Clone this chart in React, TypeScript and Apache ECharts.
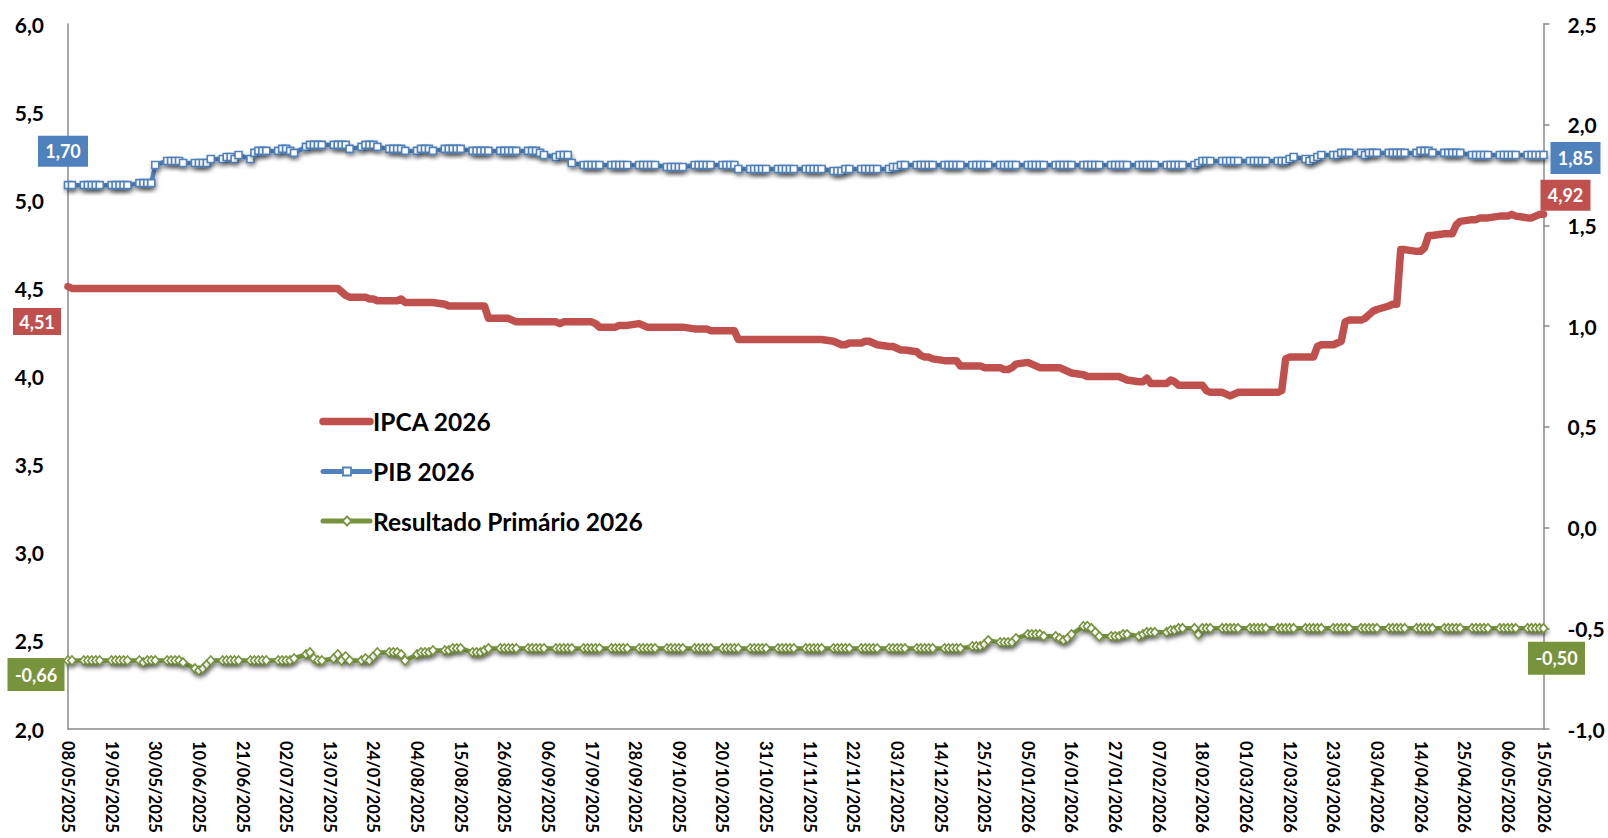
import React, { useEffect, useRef } from "react";
import * as echarts from "echarts";

const FIRST_DAY = "2025-05-08";
const LAST_DAY = "2026-05-15";

const TICK_LABELS = [
  "08/05/2025", "19/05/2025", "30/05/2025", "10/06/2025", "21/06/2025", "02/07/2025",
  "13/07/2025", "24/07/2025", "04/08/2025", "15/08/2025", "26/08/2025", "06/09/2025",
  "17/09/2025", "28/09/2025", "09/10/2025", "20/10/2025", "31/10/2025", "11/11/2025",
  "22/11/2025", "03/12/2025", "14/12/2025", "25/12/2025", "05/01/2026", "16/01/2026",
  "27/01/2026", "07/02/2026", "18/02/2026", "01/03/2026", "12/03/2026", "23/03/2026",
  "03/04/2026", "14/04/2026", "25/04/2026", "06/05/2026", "15/05/2026",
];

const LEFT_TICKS = [2.0, 2.5, 3.0, 3.5, 4.0, 4.5, 5.0, 5.5, 6.0];
const RIGHT_TICKS = [-1.0, -0.5, 0.0, 0.5, 1.0, 1.5, 2.0, 2.5];

const SERIES_NAMES = ["IPCA 2026", "PIB 2026", "Resultado Primário 2026"];

// Business-day values, grouped by week (first group: Thu 08/05 and Fri 09/05/2025)
const IPCA_2026 = [
  [4.51, 4.5],
  [4.5, 4.5, 4.5, 4.5, 4.5], [4.5, 4.5, 4.5, 4.5, 4.5], [4.5, 4.5, 4.5, 4.5, 4.5],
  [4.5, 4.5, 4.5, 4.5, 4.5], [4.5, 4.5, 4.5, 4.5, 4.5], [4.5, 4.5, 4.5, 4.5, 4.5],
  [4.5, 4.5, 4.5, 4.5, 4.5], [4.5, 4.5, 4.5, 4.5, 4.5], [4.5, 4.5, 4.5, 4.5, 4.5],
  [4.5, 4.5, 4.48, 4.46, 4.45], [4.45, 4.45, 4.44, 4.44, 4.43], [4.43, 4.43, 4.43, 4.44, 4.42],
  [4.42, 4.42, 4.42, 4.42, 4.42], [4.41, 4.4, 4.4, 4.4, 4.4], [4.4, 4.4, 4.4, 4.4, 4.33],
  [4.33, 4.33, 4.33, 4.32, 4.31], [4.31, 4.31, 4.31, 4.31, 4.31], [4.31, 4.3, 4.31, 4.31, 4.31],
  [4.31, 4.31, 4.31, 4.3, 4.28], [4.28, 4.28, 4.29, 4.29, 4.29], [4.3, 4.29, 4.28, 4.28, 4.28],
  [4.28, 4.28, 4.28, 4.28, 4.28], [4.27, 4.27, 4.27, 4.27, 4.26], [4.26, 4.26, 4.26, 4.26, 4.21],
  [4.21, 4.21, 4.21, 4.21, 4.21], [4.21, 4.21, 4.21, 4.21, 4.21], [4.21, 4.21, 4.21, 4.21, 4.21],
  [4.2, 4.19, 4.18, 4.18, 4.19], [4.19, 4.2, 4.2, 4.19, 4.18], [4.17, 4.17, 4.16, 4.15, 4.15],
  [4.14, 4.12, 4.11, 4.11, 4.1], [4.09, 4.09, 4.09, 4.09, 4.06], [4.06, 4.06, 4.06, 4.05, 4.05],
  [4.05, 4.04, 4.04, 4.05, 4.07], [4.08, 4.07, 4.06, 4.05, 4.05], [4.05, 4.05, 4.04, 4.03, 4.02],
  [4.01, 4.0, 4.0, 4.0, 4.0], [4.0, 4.0, 4.0, 3.99, 3.98], [3.97, 3.97, 3.99, 3.96, 3.96],
  [3.96, 3.98, 3.97, 3.95, 3.95], [3.95, 3.95, 3.95, 3.92, 3.91], [3.91, 3.9, 3.89, 3.9, 3.91],
  [3.91, 3.91, 3.91, 3.91, 3.91], [3.91, 3.92, 4.1, 4.11, 4.11], [4.11, 4.11, 4.11, 4.17, 4.18],
  [4.18, 4.19, 4.2, 4.31, 4.32], [4.32, 4.33, 4.35, 4.37, 4.38], [4.4, 4.41, 4.41, 4.72, 4.72],
  [4.71, 4.71, 4.73, 4.8, 4.8], [4.81, 4.81, 4.81, 4.86, 4.88], [4.89, 4.89, 4.9, 4.9, 4.9],
  [4.91, 4.91, 4.91, 4.92, 4.91], [4.9, 4.9, 4.91, 4.92, 4.92],
];

const PIB_2026 = [
  [1.7, 1.7],
  [1.7, 1.7, 1.7, 1.7, 1.7], [1.7, 1.7, 1.7, 1.7, 1.7], [1.71, 1.71, 1.71, 1.71, 1.8],
  [1.82, 1.82, 1.82, 1.82, 1.81], [1.81, 1.81, 1.81, 1.81, 1.83], [1.83, 1.84, 1.84, 1.83, 1.85],
  [1.83, 1.86, 1.87, 1.87, 1.87], [1.87, 1.88, 1.88, 1.87, 1.86], [1.89, 1.9, 1.9, 1.9, 1.9],
  [1.9, 1.9, 1.9, 1.9, 1.88], [1.89, 1.9, 1.9, 1.9, 1.89], [1.88, 1.88, 1.88, 1.88, 1.87],
  [1.87, 1.88, 1.88, 1.88, 1.87], [1.88, 1.88, 1.88, 1.88, 1.88], [1.87, 1.87, 1.87, 1.87, 1.87],
  [1.87, 1.87, 1.87, 1.87, 1.87], [1.87, 1.87, 1.87, 1.86, 1.85], [1.84, 1.85, 1.85, 1.85, 1.81],
  [1.8, 1.8, 1.8, 1.8, 1.8], [1.8, 1.8, 1.8, 1.8, 1.8], [1.8, 1.8, 1.8, 1.8, 1.8],
  [1.79, 1.79, 1.79, 1.79, 1.79], [1.8, 1.8, 1.8, 1.8, 1.8], [1.8, 1.8, 1.8, 1.8, 1.78],
  [1.78, 1.78, 1.78, 1.78, 1.78], [1.78, 1.78, 1.78, 1.78, 1.78], [1.78, 1.78, 1.78, 1.78, 1.78],
  [1.77, 1.77, 1.77, 1.78, 1.78], [1.78, 1.78, 1.78, 1.78, 1.78], [1.78, 1.79, 1.79, 1.8, 1.8],
  [1.8, 1.8, 1.8, 1.8, 1.8], [1.8, 1.8, 1.8, 1.8, 1.8], [1.8, 1.8, 1.8, 1.8, 1.8],
  [1.8, 1.8, 1.8, 1.8, 1.8], [1.8, 1.8, 1.8, 1.8, 1.8], [1.8, 1.8, 1.8, 1.8, 1.8],
  [1.8, 1.8, 1.8, 1.8, 1.8], [1.8, 1.8, 1.8, 1.8, 1.8], [1.8, 1.8, 1.8, 1.8, 1.8],
  [1.8, 1.8, 1.8, 1.8, 1.8], [1.8, 1.81, 1.82, 1.82, 1.82], [1.82, 1.82, 1.82, 1.82, 1.82],
  [1.82, 1.82, 1.82, 1.82, 1.82], [1.82, 1.82, 1.82, 1.83, 1.84], [1.83, 1.82, 1.83, 1.84, 1.85],
  [1.85, 1.85, 1.86, 1.86, 1.86], [1.86, 1.85, 1.86, 1.86, 1.86], [1.86, 1.86, 1.86, 1.86, 1.86],
  [1.86, 1.87, 1.87, 1.87, 1.86], [1.86, 1.86, 1.86, 1.86, 1.86], [1.85, 1.85, 1.85, 1.85, 1.85],
  [1.85, 1.85, 1.85, 1.85, 1.85], [1.85, 1.85, 1.85, 1.85, 1.85],
];

const PRIMARIO_2026 = [
  [-0.66, -0.66],
  [-0.66, -0.66, -0.66, -0.66, -0.66], [-0.66, -0.66, -0.66, -0.66, -0.66],
  [-0.66, -0.67, -0.66, -0.66, -0.66], [-0.66, -0.66, -0.66, -0.66, -0.67],
  [-0.7, -0.71, -0.7, -0.68, -0.66], [-0.66, -0.66, -0.66, -0.66, -0.66],
  [-0.66, -0.66, -0.66, -0.66, -0.66], [-0.66, -0.66, -0.66, -0.66, -0.65],
  [-0.63, -0.62, -0.65, -0.66, -0.66], [-0.65, -0.63, -0.66, -0.64, -0.66],
  [-0.66, -0.65, -0.66, -0.64, -0.62], [-0.62, -0.62, -0.62, -0.63, -0.66],
  [-0.63, -0.62, -0.62, -0.62, -0.61], [-0.61, -0.61, -0.6, -0.6, -0.6],
  [-0.62, -0.62, -0.62, -0.61, -0.6], [-0.6, -0.6, -0.6, -0.6, -0.6],
  [-0.6, -0.6, -0.6, -0.6, -0.6], [-0.6, -0.6, -0.6, -0.6, -0.6],
  [-0.6, -0.6, -0.6, -0.6, -0.6], [-0.6, -0.6, -0.6, -0.6, -0.6],
  [-0.6, -0.6, -0.6, -0.6, -0.6], [-0.6, -0.6, -0.6, -0.6, -0.6],
  [-0.6, -0.6, -0.6, -0.6, -0.6], [-0.6, -0.6, -0.6, -0.6, -0.6],
  [-0.6, -0.6, -0.6, -0.6, -0.6], [-0.6, -0.6, -0.6, -0.6, -0.6],
  [-0.6, -0.6, -0.6, -0.6, -0.6], [-0.6, -0.6, -0.6, -0.6, -0.6],
  [-0.6, -0.6, -0.6, -0.6, -0.6], [-0.6, -0.6, -0.6, -0.6, -0.6],
  [-0.6, -0.6, -0.6, -0.6, -0.6], [-0.6, -0.6, -0.6, -0.6, -0.6],
  [-0.59, -0.59, -0.59, -0.58, -0.56], [-0.57, -0.57, -0.57, -0.57, -0.55],
  [-0.53, -0.53, -0.53, -0.53, -0.54], [-0.54, -0.55, -0.56, -0.55, -0.53],
  [-0.49, -0.49, -0.5, -0.52, -0.54], [-0.54, -0.54, -0.54, -0.53, -0.53],
  [-0.54, -0.53, -0.52, -0.52, -0.52], [-0.52, -0.51, -0.51, -0.5, -0.5],
  [-0.5, -0.53, -0.5, -0.5, -0.5], [-0.5, -0.5, -0.5, -0.5, -0.5],
  [-0.5, -0.5, -0.5, -0.5, -0.5], [-0.5, -0.5, -0.5, -0.5, -0.5],
  [-0.5, -0.5, -0.5, -0.5, -0.5], [-0.5, -0.5, -0.5, -0.5, -0.5],
  [-0.5, -0.5, -0.5, -0.5, -0.5], [-0.5, -0.5, -0.5, -0.5, -0.5],
  [-0.5, -0.5, -0.5, -0.5, -0.5], [-0.5, -0.5, -0.5, -0.5, -0.5],
  [-0.5, -0.5, -0.5, -0.5, -0.5], [-0.5, -0.5, -0.5, -0.5, -0.5],
  [-0.5, -0.5, -0.5, -0.5, -0.5],
];

const RED = "#C0504D";
const BLUE = "#4F81BD";
const GREEN = "#77933C";
const FONT = "Lato, 'Open Sans', 'DejaVu Sans', sans-serif";

const pad = (n: number) => (n < 10 ? "0" + n : "" + n);
const fmtDate = (d: Date) => `${pad(d.getUTCDate())}/${pad(d.getUTCMonth() + 1)}/${d.getUTCFullYear()}`;

function buildCalendar() {
  const all: string[] = [];
  const biz: string[] = [];
  const d = new Date(FIRST_DAY + "T00:00:00Z");
  const end = new Date(LAST_DAY + "T00:00:00Z");
  while (d.getTime() <= end.getTime()) {
    const s = fmtDate(d);
    all.push(s);
    const wd = d.getUTCDay();
    if (wd !== 0 && wd !== 6) biz.push(s);
    d.setUTCDate(d.getUTCDate() + 1);
  }
  return { all, biz };
}

const comma = (v: number, digits: number) => v.toFixed(digits).replace(".", ",");

export default function App() {
  const ref = useRef<HTMLDivElement>(null);

  useEffect(() => {
    if (!ref.current) return;
    const chart = echarts.init(ref.current, undefined, { renderer: "svg" });
    const { all, biz } = buildCalendar();
    const tickSet = new Set(TICK_LABELS);

    const toPairs = (weeks: number[][]) => {
      const flat = weeks.flat();
      return biz.slice(0, flat.length).map((d, i) => [d, flat[i]]);
    };
    const ipca = toPairs(IPCA_2026);
    const pib = toPairs(PIB_2026);
    const prim = toPairs(PRIMARIO_2026);
    const last = (a: any[]) => a[a.length - 1];

    const boxLabel = {
      show: true,
      color: "#fff",
      fontFamily: FONT,
      fontWeight: "bold",
      fontSize: 18,
      position: "inside",
    };
    const mp = (pt: any[], color: string, size: number[], offset: number[]) => ({
      coord: pt,
      symbol: "rect",
      symbolSize: size,
      symbolOffset: offset,
      itemStyle: { color, shadowBlur: 0, shadowOffsetY: 0, shadowColor: "transparent" },
      label: { ...boxLabel, formatter: comma(pt[1], 2) },
    });

    const shadow = { shadowColor: "rgba(0,0,0,0.35)", shadowBlur: 4, shadowOffsetX: 1, shadowOffsetY: 3 };

    const axisLabelStyle = {
      fontFamily: FONT,
      fontWeight: "bold",
      fontSize: 21,
      color: "#000",
      margin: 24,
    };

    // Legend drawn as graphic (thick line icons, like the original)
    const LX = 323;
    const LX2 = 370;
    const LY = [421.5, 471.5, 521];
    const legendText = (i: number) => ({
      type: "text",
      x: 373,
      y: LY[i],
      style: {
        text: SERIES_NAMES[i],
        fontFamily: FONT,
        fontWeight: "bold",
        fontSize: 24.5,
        fill: "#000",
        verticalAlign: "middle",
        align: "left",
      },
    });
    const graphic = [
      { type: "line", shape: { x1: LX, y1: LY[0], x2: LX2, y2: LY[0] }, style: { stroke: RED, lineWidth: 7.5, lineCap: "round" } },
      legendText(0),
      { type: "line", shape: { x1: LX, y1: LY[1], x2: LX2, y2: LY[1] }, style: { stroke: BLUE, lineWidth: 5, lineCap: "round" } },
      { type: "rect", shape: { x: 343, y: LY[1] - 4, width: 8, height: 8 }, style: { fill: "#fff", stroke: BLUE, lineWidth: 1.8 } },
      legendText(1),
      { type: "line", shape: { x1: LX, y1: LY[2], x2: LX2, y2: LY[2] }, style: { stroke: GREEN, lineWidth: 5, lineCap: "round" } },
      {
        type: "polygon",
        shape: { points: [[347, LY[2] - 4.5], [351.5, LY[2]], [347, LY[2] + 4.5], [342.5, LY[2]]] },
        style: { fill: "#fff", stroke: GREEN, lineWidth: 1.8 },
      },
      legendText(2),
    ];

    chart.setOption({
      animation: false,
      backgroundColor: "#fff",
      grid: { left: 68, right: 64.5, top: 24, bottom: 109, containLabel: false, outerBoundsMode: "none" },
      graphic,
      xAxis: {
        type: "category",
        data: all,
        boundaryGap: false,
        axisLine: { show: true, onZero: false, lineStyle: { color: "#8A8A8A", width: 1.5 } },
        axisTick: { show: false },
        splitLine: { show: false },
        axisLabel: {
          interval: (_i: number, v: string) => tickSet.has(v),
          rotate: -90,
          fontFamily: FONT,
          fontWeight: "bold",
          fontSize: 16.5,
          color: "#000",
          margin: 12,
        },
      },
      yAxis: [
        {
          type: "value",
          min: LEFT_TICKS[0],
          max: LEFT_TICKS[LEFT_TICKS.length - 1],
          interval: 0.5,
          position: "left",
          axisLine: { show: true, lineStyle: { color: "#8A8A8A", width: 1.5 } },
          axisTick: { show: false },
          splitLine: { show: false },
          axisLabel: { ...axisLabelStyle, formatter: (v: number) => comma(v, 1) },
        },
        {
          type: "value",
          min: RIGHT_TICKS[0],
          max: RIGHT_TICKS[RIGHT_TICKS.length - 1],
          interval: 0.5,
          position: "right",
          axisLine: { show: true, lineStyle: { color: "#8A8A8A", width: 1.5 } },
          axisTick: { show: true, inside: false, length: 6, lineStyle: { color: "#8A8A8A", width: 1.5 } },
          splitLine: { show: false },
          axisLabel: { ...axisLabelStyle, formatter: (v: number) => comma(v, 1) },
        },
      ],
      series: [
        {
          name: SERIES_NAMES[0],
          type: "line",
          yAxisIndex: 0,
          data: ipca,
          symbol: "none",
          itemStyle: { color: RED },
          lineStyle: { color: RED, width: 7.5, join: "round", cap: "round" },
          z: 2,
          markPoint: {
            z: 10,
            data: [mp(ipca[0], RED, [48, 27], [-31, 35]), mp(last(ipca), RED, [50, 31], [22, -19])],
          },
        },
        {
          name: SERIES_NAMES[1],
          type: "line",
          yAxisIndex: 1,
          data: pib,
          symbol: "rect",
          symbolSize: 7,
          showAllSymbol: true,
          itemStyle: { color: "#fff", borderColor: BLUE, borderWidth: 1.6, ...shadow },
          lineStyle: { color: BLUE, width: 4.5, ...shadow },
          z: 3,
          markPoint: {
            z: 10,
            data: [mp(pib[0], BLUE, [50, 31], [-5, -34]), mp(last(pib), BLUE, [50, 32], [32, 3])],
          },
        },
        {
          name: SERIES_NAMES[2],
          type: "line",
          yAxisIndex: 1,
          data: prim,
          symbol: "diamond",
          symbolSize: [8, 9],
          showAllSymbol: true,
          itemStyle: { color: "#fff", borderColor: GREEN, borderWidth: 1.6, ...shadow },
          lineStyle: { color: GREEN, width: 4.5, ...shadow },
          z: 3,
          markPoint: {
            z: 10,
            data: [mp(prim[0], GREEN, [57, 33], [-32, 14]), mp(last(prim), GREEN, [57, 33], [13, 30])],
          },
        },
      ],
    });

    return () => chart.dispose();
  }, []);

  return (
    <div
      ref={ref}
      style={{ position: "absolute", left: 0, top: 0, width: 1608, height: 838, background: "#fff" }}
    />
  );
}
